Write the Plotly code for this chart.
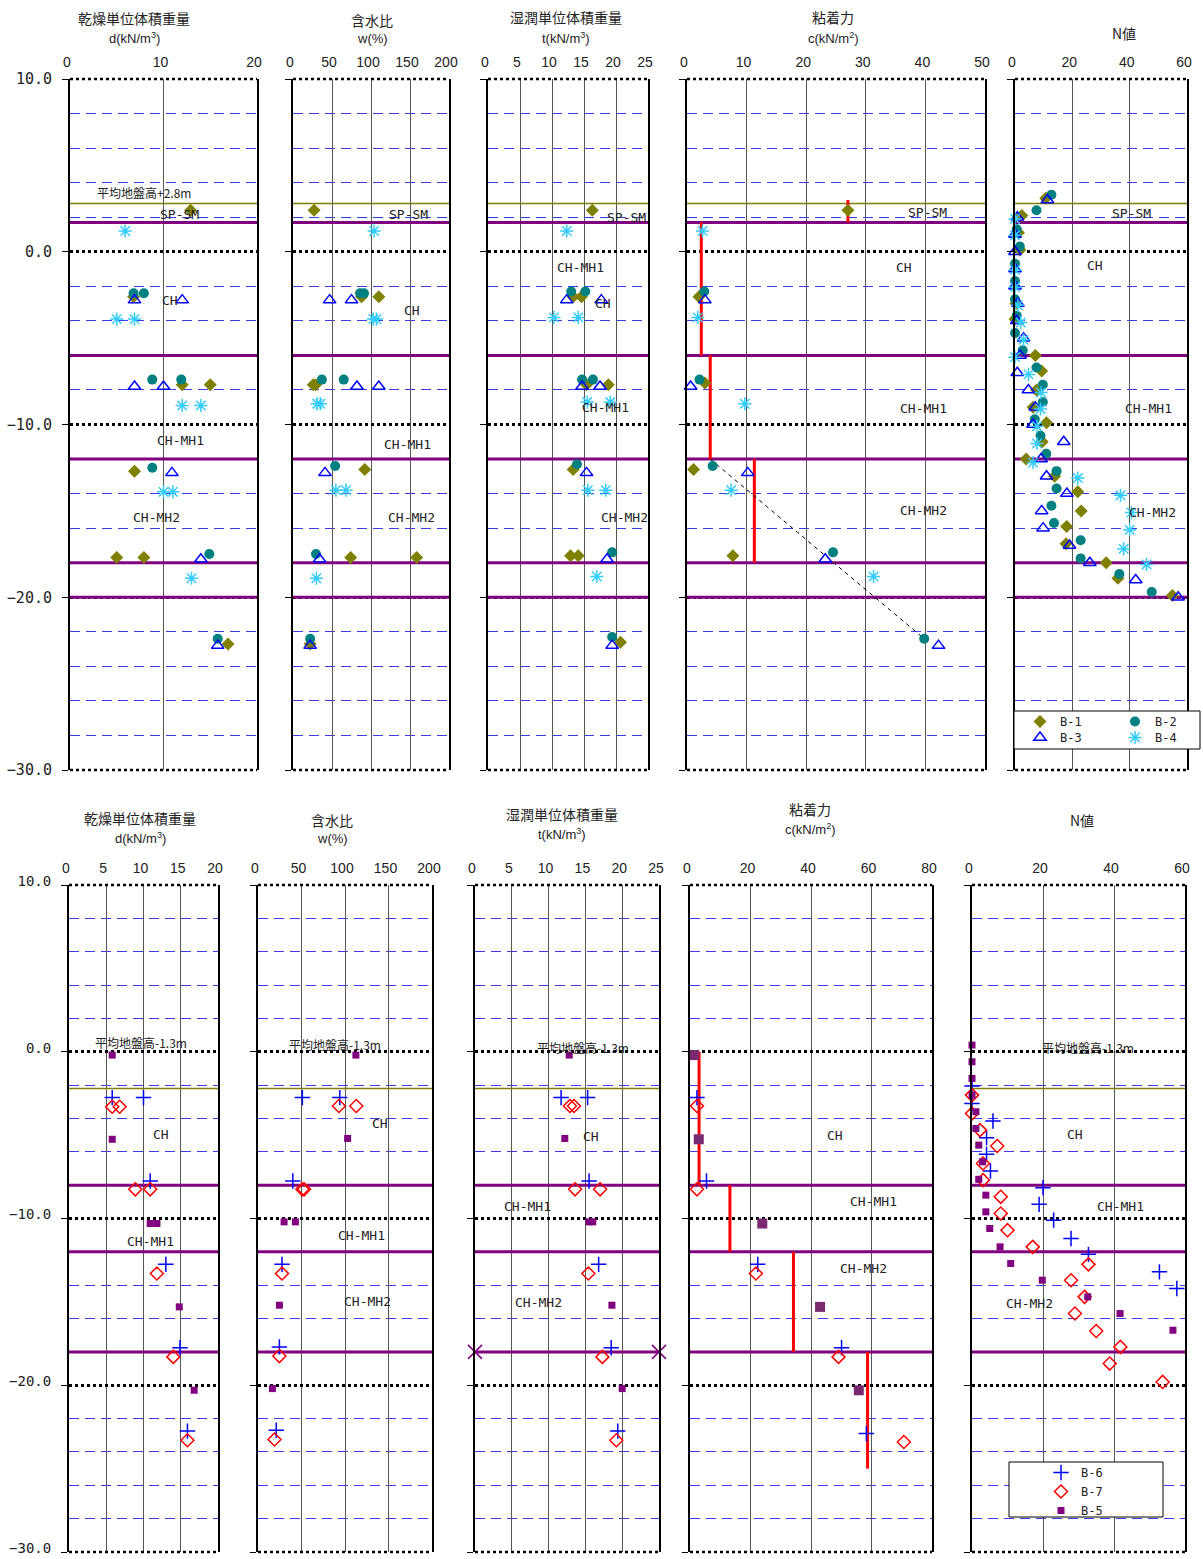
import plotly.graph_objects as go

W, H = 1203, 1559

# ======================= TOP ROW  (B-1 .. B-4) =======================
top_ground = 2.8
top_bounds = [1.7, -6.0, -12.0, -18.0, -20.0]

# dry unit weight  gamma_d (kN/m3)
dry_b1_x = [12.9, 6.8, 12.0, 15.0, 6.9, 5.0, 7.9, 16.9]
dry_b1_y = [2.4, -2.6, -7.7, -7.7, -12.7, -17.7, -17.7, -22.7]
dry_b2_x = [6.8, 7.9, 8.8, 11.9, 8.8, 14.9, 15.8]
dry_b2_y = [-2.4, -2.4, -7.4, -7.4, -12.5, -17.5, -22.4]
dry_b3_x = [6.9, 12.0, 6.9, 10.0, 10.9, 14.0, 15.8]
dry_b3_y = [-2.8, -2.8, -7.8, -7.8, -12.8, -17.8, -22.8]
dry_b4_x = [5.9, 5.0, 6.9, 12.0, 14.0, 10.0, 11.0, 13.0]
dry_b4_y = [1.2, -3.9, -3.9, -8.9, -8.9, -13.9, -13.9, -18.9]

# water content w (%)
wc_b1_x = [27, 88, 110, 26, 29, 92, 74, 158.5, 22]
wc_b1_y = [2.4, -2.6, -2.6, -7.7, -7.7, -12.6, -17.7, -17.7, -22.7]
wc_b2_x = [86, 91, 37, 65, 54, 29.5, 22]
wc_b2_y = [-2.4, -2.4, -7.4, -7.4, -12.4, -17.5, -22.4]
wc_b3_x = [47, 75, 82, 110, 41, 34, 22]
wc_b3_y = [-2.8, -2.8, -7.8, -7.8, -12.8, -17.8, -22.8]
wc_b4_x = [104, 103, 107, 31, 35, 55, 68, 30]
wc_b4_y = [1.2, -3.9, -3.9, -8.8, -8.8, -13.8, -13.8, -18.9]

# wet unit weight gamma_t (kN/m3)
wet_b1_x = [16.3, 13.3, 14.6, 15.4, 18.8, 13.3, 12.9, 14.1, 20.7]
wet_b1_y = [2.4, -2.6, -2.6, -7.7, -7.7, -12.6, -17.6, -17.6, -22.6]
wet_b2_x = [13.0, 15.2, 14.7, 16.4, 13.9, 19.4, 19.4]
wet_b2_y = [-2.3, -2.3, -7.4, -7.4, -12.3, -17.4, -22.3]
wet_b3_x = [12.3, 17.7, 14.7, 17.5, 15.4, 18.6, 19.4]
wet_b3_y = [-2.8, -2.8, -7.8, -7.8, -12.8, -17.8, -22.8]
wet_b4_x = [12.3, 10.3, 14.1, 15.5, 19.1, 15.6, 18.4, 17.0]
wet_b4_y = [1.2, -3.8, -3.8, -8.7, -8.7, -13.8, -13.8, -18.8]

# cohesion c (kN/m2)
coh_b1_x = [27.0, 2.0, 3.0, 1.1, 7.7]
coh_b1_y = [2.4, -2.6, -7.6, -12.6, -17.6]
coh_b2_x = [2.9, 2.1, 4.3, 24.5, 39.8]
coh_b2_y = [-2.3, -7.4, -12.4, -17.4, -22.4]
coh_b3_x = [3.0, 0.6, 10.2, 23.2, 42.2]
coh_b3_y = [-2.8, -7.8, -12.8, -17.8, -22.8]
coh_b4_x = [2.6, 1.8, 9.7, 7.4, 31.3]
coh_b4_y = [1.2, -3.8, -8.8, -13.8, -18.8]
coh_top_design_x = [27.0, 2.4, 3.9, 11.3]
coh_top_design_from = [3.0, 1.7, -6.0, -12.0]
coh_top_design_to = [1.7, -6.0, -12.0, -18.0]
coh_top_trend_x = [3.9, 39.8]
coh_top_trend_y = [-12.0, -22.4]

# SPT N value
n_b1_x = [10.7, 2.4, 1.2, 1.7, 0.3, 0.0, 7.1, 9.3, 7.5, 6.3, 11.0, 9.5, 3.9, 13.8,
          21.9, 23.1, 18.0, 17.8, 31.8, 35.9, 54.9]
n_b1_y = [3.1, 2.1, 1.1, 0.1, -3.0, -3.9, -6.0, -6.9, -8.0, -9.0, -9.9, -11.0, -12.0, -13.0,
          -13.9, -15.0, -15.9, -16.9, -18.0, -18.9, -19.9]
n_b2_x = [12.7, 7.5, 0.6, 1.7, 0.0, 0.0, 0.0, 0.6, 0.0, 2.7, 7.5, 9.7, 9.7, 6.9, 8.9, 10.9,
          14.5, 14.5, 12.7, 13.6, 22.9, 22.9, 36.4, 47.7]
n_b2_y = [3.3, 2.4, 1.3, 0.3, -0.7, -1.7, -2.75, -3.7, -4.7, -5.7, -6.7, -7.7, -8.7, -9.7, -10.65, -11.7,
          -12.7, -13.7, -14.7, -15.7, -16.7, -17.75, -18.65, -19.7]
n_b3_x = [11.3, 0.8, 0.0, 0.0, 0.0, 0.0, 1.0, 0.6, 3.0, 1.75, 0.8, 4.7, 7.1, 6.3, 17.0, 9.1,
          11.0, 18.1, 9.3, 9.8, 19.0, 26.1, 42.1, 56.9]
n_b3_y = [3.0, 2.0, 1.0, 0.0, -1.0, -2.0, -3.0, -4.0, -5.0, -6.0, -7.0, -8.0, -9.0, -10.0, -11.0, -12.0,
          -13.0, -14.0, -15.0, -16.0, -17.0, -18.0, -19.0, -20.0]
n_b4_x = [0.0, 0.0, 0.0, 0.0, 1.0, 2.0, 3.0, 0.0, 4.7, 9.1, 8.9, 7.7, 7.7, 6.3, 21.9, 36.8,
          40.6, 40.0, 37.9, 45.9]
n_b4_y = [1.9, 0.95, -1.05, -2.05, -3.1, -4.1, -5.1, -6.1, -7.1, -8.15, -9.1, -10.1, -11.1, -12.2,
          -13.1, -14.1, -15.1, -16.1, -17.2, -18.1]

# ======================= BOTTOM ROW  (B-5 .. B-7) =======================
bot_ground = -2.2
bot_bounds = [-8.0, -12.0, -18.0]

dry_b6_x = [5.8, 10.0, 10.9, 13.0, 14.9, 15.9]
dry_b6_y = [-2.75, -2.75, -7.75, -12.75, -17.75, -22.75]
dry_b7_x = [5.8, 6.8, 8.9, 10.9, 11.8, 14.0, 15.9]
dry_b7_y = [-3.3, -3.3, -8.25, -8.25, -13.3, -18.3, -23.3]
dry_b5_x = [5.8, 5.8, 10.9, 11.8, 14.8, 16.8]
dry_b5_y = [-0.2, -5.25, -10.3, -10.3, -15.3, -20.3]

wc_b6_x = [51, 94, 40, 27.6, 24.6, 21]
wc_b6_y = [-2.75, -2.75, -7.75, -12.75, -17.7, -22.7]
wc_b7_x = [93, 113, 51, 53, 27.6, 24.6, 19]
wc_b7_y = [-3.25, -3.25, -8.25, -8.25, -13.3, -18.25, -23.25]
wc_b5_x = [112.5, 103, 30, 43, 24.6, 16.6]
wc_b5_y = [-0.2, -5.2, -10.2, -10.2, -15.2, -20.2]

wet_b6_x = [11.7, 15.3, 15.5, 16.8, 18.5, 19.4]
wet_b6_y = [-2.75, -2.75, -7.75, -12.75, -17.75, -22.75]
wet_b7_x = [12.9, 13.45, 13.6, 17.0, 15.4, 17.3, 19.2]
wet_b7_y = [-3.25, -3.25, -8.25, -8.25, -13.3, -18.3, -23.3]
wet_b5_x = [12.8, 12.2, 15.5, 16.0, 18.6, 20.0]
wet_b5_y = [-0.2, -5.2, -10.2, -10.2, -15.2, -20.2]
wet_bound_marker_x = [0, 25]
wet_bound_marker_y = [-18.0, -18.0]

coh_b6_x = [2.3, 5.45, 22.4, 50.1, 58.3]
coh_b6_y = [-2.75, -7.75, -12.75, -17.75, -22.9]
coh_b7_x = [2.3, 2.3, 21.8, 49.1, 70.7]
coh_b7_y = [-3.25, -8.25, -13.3, -18.3, -23.4]
coh_b5_x = [1.4, 2.9, 23.9, 43.0, 55.8]
coh_b5_y = [-0.2, -5.25, -10.3, -15.3, -20.3]
coh_bot_design_x = [3.0, 13.2, 34.2, 58.7]
coh_bot_design_from = [0.0, -8.0, -12.0, -18.0]
coh_bot_design_to = [-8.0, -12.0, -18.0, -25.0]

n_b6_x = [0.0, 0.0, 5.9, 4.1, 4.1, 5.2, 20.0, 18.9, 23.0, 27.9, 32.8, 52.8, 57.7]
n_b6_y = [-2.05, -3.1, -4.15, -5.15, -6.15, -7.15, -8.15, -9.15, -10.1, -11.2, -12.15, -13.2, -14.2]
n_b7_x = [0.0, 0.0, 2.25, 7.1, 3.1, 3.1, 8.1, 8.1, 10.0, 17.1, 32.8, 27.9, 31.7, 29.0, 35.0,
          41.8, 38.8, 53.7]
n_b7_y = [-2.6, -3.7, -4.7, -5.65, -6.7, -7.7, -8.7, -9.7, -10.7, -11.7, -12.75, -13.7, -14.7,
          -15.7, -16.75, -17.7, -18.7, -19.8]
n_b5_x = [0.0, 0.0, 0.0, 0.0, 1.1, 1.1, 1.9, 3.0, 1.9, 3.9, 3.9, 5.0, 7.9, 10.9, 19.8, 32.6,
          41.7, 56.6]
n_b5_y = [0.4, -0.6, -1.6, -2.6, -3.6, -4.6, -5.6, -6.6, -7.65, -8.6, -9.6, -10.6, -11.7, -12.7,
          -13.7, -14.7, -15.7, -16.7]

# ======================= layout geometry =======================
top_x_px = [(70, 257), (293, 449), (488, 648), (687, 985), (1015, 1187)]
bot_x_px = [(69, 218), (258, 432), (475, 659), (690, 932), (972, 1185)]
top_y_px = (79, 770)
bot_y_px = (885, 1552)
top_xmax = [20, 200, 25, 50, 60]
top_dtick = [10, 50, 5, 10, 20]
bot_xmax = [20, 200, 25, 80, 60]
bot_dtick = [5, 50, 5, 20, 20]


def fx(p):
    return p / W


def fy(p):
    return 1 - p / H


B1 = dict(symbol='diamond', size=10, color='#808000')
B2 = dict(symbol='circle', size=10, color='#008080')
B3 = dict(symbol='triangle-up-open', size=11, color='#0000FF', line=dict(width=1.5, color='#0000FF'))
B4 = dict(symbol='asterisk-open', size=11, color='#33CCFF', line=dict(width=1.5, color='#33CCFF'))
B6 = dict(symbol='cross-thin-open', size=11, color='#0000FF', line=dict(width=1.5, color='#0000FF'))
B7 = dict(symbol='diamond-open', size=10, color='#FF0000', line=dict(width=1.5, color='#FF0000'))
B5 = dict(symbol='square', size=7, color='#800080')
B5big = dict(symbol='square', size=10, color='#7a2a70')

fig = go.Figure()


def ax(i):
    return ('x' if i == 1 else 'x%d' % i), ('y' if i == 1 else 'y%d' % i)


def add(i, x, y, name, marker, legend=None):
    xa, ya = ax(i)
    fig.add_trace(go.Scatter(
        x=x, y=y, mode='markers', name=name, marker=marker, xaxis=xa, yaxis=ya,
        showlegend=legend is not None, legend=legend or 'legend', cliponaxis=False,
        hoverinfo='x+y+name'))


top_sets = [
    (dry_b1_x, dry_b1_y, dry_b2_x, dry_b2_y, dry_b3_x, dry_b3_y, dry_b4_x, dry_b4_y),
    (wc_b1_x, wc_b1_y, wc_b2_x, wc_b2_y, wc_b3_x, wc_b3_y, wc_b4_x, wc_b4_y),
    (wet_b1_x, wet_b1_y, wet_b2_x, wet_b2_y, wet_b3_x, wet_b3_y, wet_b4_x, wet_b4_y),
    (coh_b1_x, coh_b1_y, coh_b2_x, coh_b2_y, coh_b3_x, coh_b3_y, coh_b4_x, coh_b4_y),
    (n_b1_x, n_b1_y, n_b2_x, n_b2_y, n_b3_x, n_b3_y, n_b4_x, n_b4_y),
]

# cohesion design lines (top)
rx, ry = [], []
for xv, a, b in zip(coh_top_design_x, coh_top_design_from, coh_top_design_to):
    rx += [xv, xv, None]
    ry += [a, b, None]
fig.add_trace(go.Scatter(x=rx, y=ry, mode='lines', line=dict(color='#FF0000', width=3),
                         xaxis='x4', yaxis='y4', showlegend=False, hoverinfo='skip'))
fig.add_trace(go.Scatter(x=coh_top_trend_x, y=coh_top_trend_y, mode='lines',
                         line=dict(color='black', width=1, dash='4px,4px'),
                         xaxis='x4', yaxis='y4', showlegend=False, hoverinfo='skip'))

for k, s in enumerate(top_sets):
    i = k + 1
    last = (i == 5)
    add(i, s[0], s[1], 'B-1', B1, 'legend' if last else None)
    add(i, s[2], s[3], 'B-2', B2, 'legend' if last else None)
    add(i, s[4], s[5], 'B-3', B3, 'legend2' if last else None)
    add(i, s[6], s[7], 'B-4', B4, 'legend2' if last else None)

# bottom row
rx, ry = [], []
for xv, a, b in zip(coh_bot_design_x, coh_bot_design_from, coh_bot_design_to):
    rx += [xv, xv, None]
    ry += [a, b, None]
fig.add_trace(go.Scatter(x=rx, y=ry, mode='lines', line=dict(color='#FF0000', width=3),
                         xaxis='x9', yaxis='y9', showlegend=False, hoverinfo='skip'))

fig.add_trace(go.Scatter(x=wet_bound_marker_x, y=wet_bound_marker_y, mode='markers',
                         marker=dict(symbol='x-thin-open', size=14, color='#800080',
                                     line=dict(width=1.5, color='#800080')),
                         xaxis='x8', yaxis='y8', showlegend=False, cliponaxis=False,
                         hoverinfo='skip'))

bot_sets = [
    (dry_b6_x, dry_b6_y, dry_b7_x, dry_b7_y, dry_b5_x, dry_b5_y),
    (wc_b6_x, wc_b6_y, wc_b7_x, wc_b7_y, wc_b5_x, wc_b5_y),
    (wet_b6_x, wet_b6_y, wet_b7_x, wet_b7_y, wet_b5_x, wet_b5_y),
    (coh_b6_x, coh_b6_y, coh_b7_x, coh_b7_y, coh_b5_x, coh_b5_y),
    (n_b6_x, n_b6_y, n_b7_x, n_b7_y, n_b5_x, n_b5_y),
]
for k, s in enumerate(bot_sets):
    i = k + 6
    last = (i == 10)
    add(i, s[0], s[1], 'B-6', B6, 'legend3' if last else None)
    add(i, s[2], s[3], 'B-7', B7, 'legend3' if last else None)
    add(i, s[4], s[5], 'B-5', B5big if i == 9 else B5, 'legend3' if last else None)

# ======================= axes =======================
layout = {}
shapes = []
tick_font = dict(family='Liberation Sans, Arial', size=14, color='#222')
for row in range(2):
    xpx = top_x_px if row == 0 else bot_x_px
    ypx = top_y_px if row == 0 else bot_y_px
    xmax = top_xmax if row == 0 else bot_xmax
    dts = top_dtick if row == 0 else bot_dtick
    ground = top_ground if row == 0 else bot_ground
    bounds = top_bounds if row == 0 else bot_bounds
    for k in range(5):
        i = row * 5 + k + 1
        xa, ya = ax(i)
        xkey = 'xaxis' if i == 1 else 'xaxis%d' % i
        ykey = 'yaxis' if i == 1 else 'yaxis%d' % i
        layout[xkey] = dict(
            domain=[fx(xpx[k][0]), fx(xpx[k][1])], range=[0, xmax[k]], anchor=ya, side='top',
            tickmode='linear', tick0=0, dtick=dts[k], showgrid=True, gridcolor='#555555',
            gridwidth=1, zeroline=False, showline=False, ticks='', tickfont=tick_font,
            ticklabelstandoff=8, ticklabelshift=-3, fixedrange=True, automargin=False,
            ticklabeloverflow='allow')
        layout[ykey] = dict(
            domain=[fy(ypx[1]), fy(ypx[0])], range=[-30, 10], anchor=xa,
            tickmode='linear', tick0=0, dtick=10, showgrid=True, gridcolor='black',
            griddash='dot', gridwidth=2.5, zeroline=False, showline=True, mirror=True,
            linecolor='black', linewidth=2, ticks='outside', ticklen=6, tickcolor='black',
            tickwidth=1, showticklabels=(k == 0), tickformat='.1f',
            tickfont=dict(family='DejaVu Sans Mono', size=15 if row == 0 else 14, color='#222'),
            ticklabelstandoff=7, ticklabelshift=(0 if row == 0 else -4),
            fixedrange=True, automargin=False, ticklabeloverflow='allow',
            minor=dict(tick0=0, dtick=2, showgrid=True, gridcolor='#3c3ce6', gridwidth=1,
                       griddash='10px,6px', ticks=''))
        xend = xmax[k] * (1 + 6.0 / (xpx[k][1] - xpx[k][0]))
        # dotted frame top / bottom
        for yy in (0, 1):
            shapes.append(dict(type='line', xref=xa + ' domain', yref=ya + ' domain',
                               x0=0, x1=1, y0=yy, y1=yy, layer='above',
                               line=dict(color='black', width=2.5, dash='dot')))
        # ground level
        if not (row == 1 and k == 3):
            shapes.append(dict(type='line', xref=xa, yref=ya, x0=0, x1=xend,
                               y0=ground, y1=ground, layer='between',
                               line=dict(color='#808000', width=1.5)))
        for b in bounds:
            shapes.append(dict(type='line', xref=xa, yref=ya, x0=0, x1=xend,
                               y0=b, y1=b, layer='between',
                               line=dict(color='#800080', width=3)))

# legend boxes
shapes.append(dict(type='rect', xref='paper', yref='paper', x0=fx(1014), x1=fx(1200),
                   y0=fy(749), y1=fy(711), fillcolor='white', layer='above',
                   line=dict(color='black', width=1)))
shapes.append(dict(type='rect', xref='paper', yref='paper', x0=fx(1009), x1=fx(1163),
                   y0=fy(1517), y1=fy(1462), fillcolor='white', layer='above',
                   line=dict(color='black', width=1)))

# ======================= annotations =======================
ann = []
cjk = 'Noto Sans CJK JP'


def paper_text(text, x, y, size, family=cjk):
    ann.append(dict(text=text, x=fx(x), y=fy(y), xref='paper', yref='paper', showarrow=False,
                    xanchor='center', yanchor='middle',
                    font=dict(family=family, size=size, color='#222')))


titles_top = [('乾燥単位体積重量', 'd(kN/m<sup>3</sup>)', 134, 18, 38),
              ('含水比', 'w(%)', 372, 20, 38),
              ('湿潤単位体積重量', 't(kN/m<sup>3</sup>)', 566, 17, 38),
              ('粘着力', 'c(kN/m<sup>2</sup>)', 833, 17, 38)]
titles_bot = [('乾燥単位体積重量', 'd(kN/m<sup>3</sup>)', 140, 818, 838),
              ('含水比', 'w(%)', 332, 820, 838),
              ('湿潤単位体積重量', 't(kN/m<sup>3</sup>)', 562, 814, 834),
              ('粘着力', 'c(kN/m<sup>2</sup>)', 810, 809, 829)]
for t1, t2, x, y1, y2 in titles_top + titles_bot:
    paper_text(t1, x, y1, 14)
    paper_text(t2, x, y2, 13, 'Liberation Sans, Arial')
paper_text('N値', 1124, 33, 14)
paper_text('N値', 1082, 820, 14)


def label(i, text, x, y, family='DejaVu Sans Mono', size=13):
    xa, ya = ax(i)
    ann.append(dict(text=text, x=x, y=y, xref=xa, yref=ya, showarrow=False,
                    xanchor='center', yanchor='middle',
                    font=dict(family=family, size=size, color='#222')))


label(1, '平均地盤高+2.8m', 7.9, 3.45, cjk, 12)
label(1, 'SP-SM', 11.7, 2.13)
label(1, 'CH', 10.7, -2.85)
label(1, 'CH-MH1', 11.8, -10.95)
label(1, 'CH-MH2', 9.3, -15.4)
label(2, 'SP-SM', 148.7, 2.13)
label(2, 'CH', 152.6, -3.43)
label(2, 'CH-MH1', 147.4, -11.13)
label(2, 'CH-MH2', 151.3, -15.4)
label(3, 'SP-SM', 21.6, 2.0)
label(3, 'CH-MH1', 14.5, -0.94)
label(3, 'CH', 18.0, -3.02)
label(3, 'CH-MH1', 18.3, -8.99)
label(3, 'CH-MH2', 21.25, -15.4)
label(4, 'SP-SM', 40.3, 2.3)
label(4, 'CH', 36.4, -0.94)
label(4, 'CH-MH1', 39.6, -9.05)
label(4, 'CH-MH2', 39.6, -14.95)
label(5, 'SP-SM', 40.5, 2.24)
label(5, 'CH', 27.9, -0.77)
label(5, 'CH-MH1', 46.4, -9.05)
label(5, 'CH-MH2', 48.1, -15.07)

label(6, '平均地盤高-1.3m', 9.66, 0.53, cjk, 12)
label(6, 'CH', 12.35, -4.99)
label(6, 'CH-MH1', 11.0, -11.35)
label(7, '平均地盤高-1.3m', 88.5, 0.41, cjk, 12)
label(7, 'CH', 140.2, -4.33)
label(7, 'CH-MH1', 118.4, -11.04)
label(7, 'CH-MH2', 126.4, -15.0)
label(8, '平均地盤高-1.3m', 14.7, 0.23, cjk, 12)
label(8, 'CH', 15.76, -5.1)
label(8, 'CH-MH1', 7.2, -9.3)
label(8, 'CH-MH2', 8.56, -15.05)
label(9, 'CH', 47.9, -5.05)
label(9, 'CH-MH1', 60.5, -9.0)
label(9, 'CH-MH2', 57.5, -13.0)
label(10, '平均地盤高-1.3m', 32.7, 0.23, cjk, 12)
label(10, 'CH', 29.0, -4.99)
label(10, 'CH-MH1', 41.7, -9.3)
label(10, 'CH-MH2', 16.1, -15.1)

leg_common = dict(bgcolor='rgba(0,0,0,0)', borderwidth=0, xanchor='left', yanchor='top',
                  itemclick=False, itemdoubleclick=False)
layout['legend'] = dict(leg_common, orientation='h', x=fx(1020), y=fy(707),
                        entrywidth=50, entrywidthmode='pixels',
                        font=dict(family='DejaVu Sans Mono', size=12, color='#222'))
layout['legend2'] = dict(leg_common, orientation='h', x=fx(1020), y=fy(723),
                         entrywidth=50, entrywidthmode='pixels',
                         font=dict(family='DejaVu Sans Mono', size=12, color='#222'))
layout['legend3'] = dict(leg_common, orientation='v', x=fx(1041), y=fy(1458),
                         tracegroupgap=0,
                         font=dict(family='DejaVu Sans Mono', size=12, color='#222'))

fig.update_layout(
    width=W, height=H, autosize=False,
    margin=dict(l=0, r=0, t=0, b=0, pad=0, autoexpand=False),
    paper_bgcolor='white', plot_bgcolor='white', shapes=shapes, annotations=ann,
    showlegend=True, hovermode='closest', **layout)

fig.write_html('out.html')
